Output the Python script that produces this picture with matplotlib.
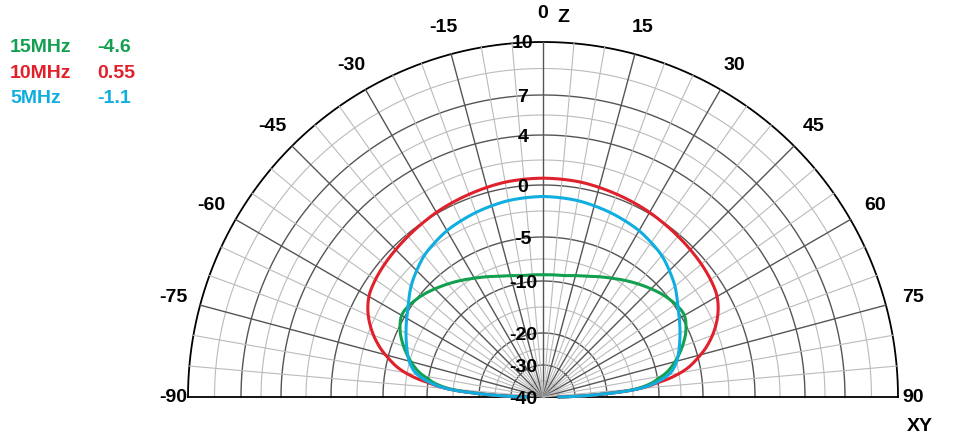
import numpy as np
import matplotlib.pyplot as plt

plt.rcParams['font.family'] = ['Liberation Sans', 'DejaVu Sans']

# radial scale ticks (dB) and their radius in pixels on the reference
ring_db = [10, 7, 4, 0, -5, -10, -20, -30, -40]
ring_r = [355, 302, 262, 212, 160, 116, 64, 32, 0]
minor_db = [8.5, 5.5, 2, -2.5, -7.5, -15, -25, -35]

# elevation from zenith (deg), pattern in dB
ang = [0, 10, 20, 30, 40, 50, 55, 60, 65, 70, 75, 80, 84, 87, 89, 90]
red_10mhz = [0.55, 0.5, 0.3, 0.1, -0.2, -0.5, -0.7, -1.0, -1.8, -3.0, -4.6, -7.0, -11, -18, -30, -40]
blue_5mhz = [-1.1, -1.2, -1.5, -1.9, -2.6, -3.8, -4.6, -5.3, -6.0, -6.7, -7.4, -8.5, -11, -18, -30, -40]
green_15mhz = [-9.3, -9.2, -8.6, -7.6, -6.4, -5.2, -4.8, -4.6, -5.2, -6.3, -7.6, -9.2, -12, -18, -30, -40]

legend = [("15MHz", "-4.6", "#12a050"), ("10MHz", "0.55", "#e0202a"), ("5MHz", "-1.1", "#10aee0")]

cx, cy = 543, 397


def rad(db):
    return np.interp(db, ring_db[::-1], ring_r[::-1])


fig = plt.figure(figsize=(9.57, 4.44), dpi=100)
ax = fig.add_axes([0, 0, 1, 1])
ax.set_xlim(0, 957)
ax.set_ylim(444, 0)
ax.axis('off')

R = ring_r[0]
t = np.linspace(-90, 90, 400)
for db in minor_db:
    r = rad(db)
    ax.plot(cx + r * np.sin(np.radians(t)), cy - r * np.cos(np.radians(t)), color='#bbbbbb', lw=0.8)
for r in ring_r[1:-1]:
    ax.plot(cx + r * np.sin(np.radians(t)), cy - r * np.cos(np.radians(t)), color='#555555', lw=1.0)
ax.plot(cx + R * np.sin(np.radians(t)), cy - R * np.cos(np.radians(t)), color='black', lw=1.3)
ax.plot([cx - R, cx + R], [cy, cy], color='black', lw=1.3)

for a in range(-85, 90, 5):
    s, c = np.sin(np.radians(a)), np.cos(np.radians(a))
    col, lw = ('#555555', 1.0) if a % 15 == 0 else ('#bbbbbb', 0.8)
    ax.plot([cx, cx + R * s], [cy, cy - R * c], color=col, lw=lw)

for a in range(-90, 91, 15):
    s, c = np.sin(np.radians(a)), np.cos(np.radians(a))
    rr = 383 if abs(a) != 90 else 370
    ax.text(cx + rr * s, cy - rr * c, str(a),
            fontsize=14, fontweight='bold', ha='center', va='center')
ax.text(cx + 20, 18, "Z", fontsize=14, fontweight='bold', ha='center', va='center')
ax.text(920, 426, "XY", fontsize=14, fontweight='bold', ha='center', va='center')

for db, r in zip(ring_db, ring_r):
    ax.text(cx - 20, cy - r + 2, str(db), fontsize=14, fontweight='bold', ha='center', va='center')

dense = np.linspace(0, 90, 600)
for vals, col in [(green_15mhz, legend[0][2]), (red_10mhz, legend[1][2]), (blue_5mhz, legend[2][2])]:
    d = np.interp(dense, ang, vals)
    d = np.convolve(np.pad(d, 15, mode='edge'), np.ones(31) / 31, mode='valid')
    th = np.concatenate([-dense[::-1], dense])
    dd = np.concatenate([d[::-1], d])
    r = rad(dd)
    ax.plot(cx + r * np.sin(np.radians(th)), cy - r * np.cos(np.radians(th)), color=col, lw=2.2)

for i, (name, val, col) in enumerate(legend):
    y = 48 + i * 25
    ax.text(10, y, name, color=col, fontsize=14, fontweight='bold', va='center')
    ax.text(97, y, val, color=col, fontsize=14, fontweight='bold', va='center')

fig.savefig('out.png', dpi=100)
